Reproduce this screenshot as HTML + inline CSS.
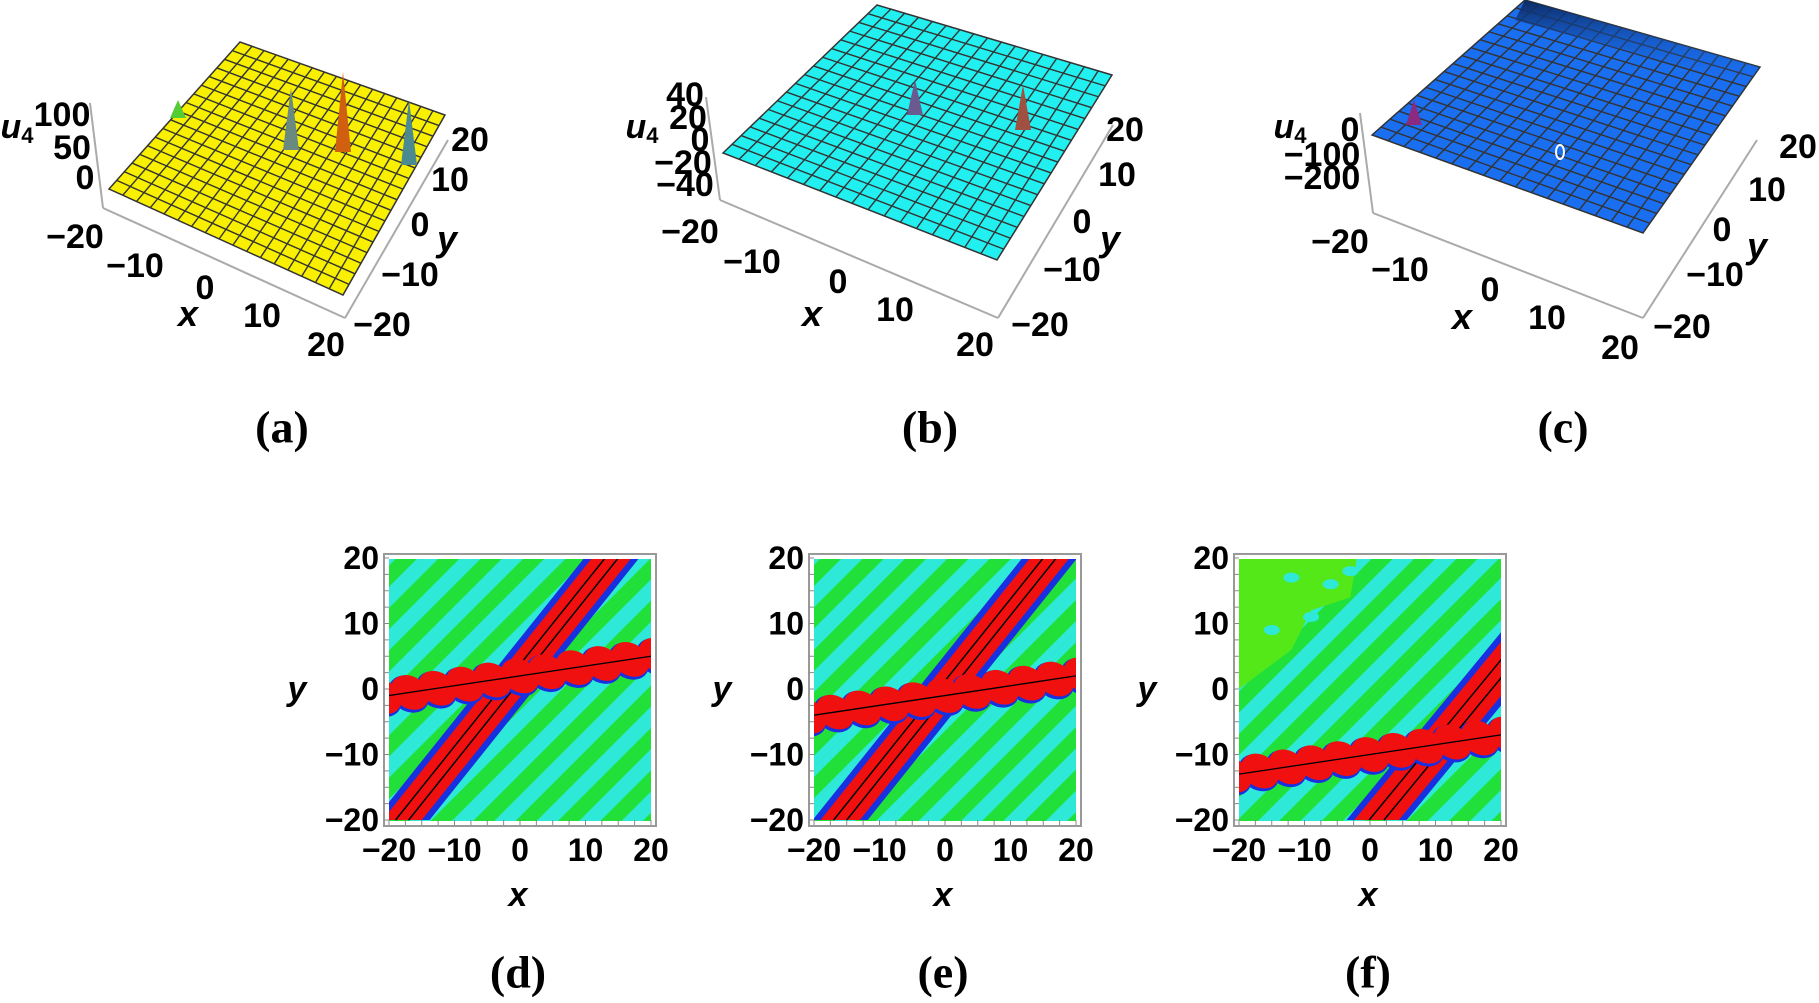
<!DOCTYPE html>
<html><head><meta charset="utf-8"><style>
html,body{margin:0;padding:0;background:#fff;}
svg{display:block}
.t{font-family:"Liberation Sans",sans-serif;font-weight:bold;fill:#000}
.c{font-family:"Liberation Serif",serif;font-weight:bold;fill:#000}
</style></head><body>
<svg id="s" xmlns="http://www.w3.org/2000/svg" width="1819" height="1003" viewBox="0 0 1819 1003">
<defs>
<pattern id="st" patternUnits="userSpaceOnUse" width="30" height="30" patternTransform="rotate(45)">
<rect width="30" height="30" fill="#22e03a"/><rect width="15" height="30" fill="#2ee8d8"/></pattern>
<linearGradient id="dk" x1="0" y1="0" x2="0" y2="1"><stop offset="0" stop-color="#0d2a60"/><stop offset="1" stop-color="#1a6ef0" stop-opacity="0"/></linearGradient>
</defs>
<g id="g"></g>
</svg>
<script>
var g=document.getElementById('g'),h='';
function T(x,y,s,fs,cls,anch){h+='<text class="'+(cls||'t')+'" x="'+x+'" y="'+y+'" font-size="'+(fs||30)+'" text-anchor="'+(anch||'middle')+'" dominant-baseline="central">'+s+'</text>';}
function L(x1,y1,x2,y2,c,w){h+='<line x1="'+x1+'" y1="'+y1+'" x2="'+x2+'" y2="'+y2+'" stroke="'+c+'" stroke-width="'+w+'"/>';}
function surf(P,fill,peaks){
 var A=P[0],B=P[1],C=P[2],D=P[3];
 function pt(u,v){
  var x=A[0]+(B[0]-A[0])*u+(D[0]-A[0])*v+(A[0]-B[0]+C[0]-D[0])*u*v;
  var y=A[1]+(B[1]-A[1])*u+(D[1]-A[1])*v+(A[1]-B[1]+C[1]-D[1])*u*v;return [x,y];}
 h+='<polygon points="'+[A,B,C,D].map(p=>p.join(',')).join(' ')+'" fill="'+fill+'" stroke="#333" stroke-width="1.5"/>';
 var n=17;
 for(var i=1;i<n;i++){var a=pt(i/n,0),b=pt(i/n,1);L(a[0],a[1],b[0],b[1],'#333',1.4);
  a=pt(0,i/n);b=pt(1,i/n);L(a[0],a[1],b[0],b[1],'#333',1.4);}
 peaks.forEach(function(k){h+='<polygon points="'+(k[0]-8)+','+k[1]+' '+k[0]+','+(k[1]-k[2])+' '+(k[0]+8)+','+k[1]+'" fill="'+k[3]+'"/>';});
}
function box(zt,zb,fb,yt){L(zt[0],zt[1],zb[0],zb[1],'#aaa',2);L(zb[0],zb[1],fb[0],fb[1],'#aaa',2);L(fb[0],fb[1],yt[0],yt[1],'#aaa',2);}
var U='<tspan font-style="italic">u</tspan><tspan font-size="22" dy="8">4</tspan>';
box([90,103],[103,208],[345,318],[448,140]);
surf([[109,189],[240,42],[445,115],[343,295]],'#f8f000',[[291,150,62,'#6a8a80'],[343,152,80,'#d06010'],[409,165,65,'#4a8a90'],[178,118,18,'#5c3']]);
T(17,127,U,34,'t');
T(62,115,'100',34);T(72,148,'50',34);T(85,178,'0',34);
T(75,237,'−20',34);T(135,266,'−10',34);T(205,288,'0',34);T(262,316,'10',34);T(326,345,'20',34);
T(188,313,'<tspan font-style="italic">x</tspan>',36);
T(470,140,'20',34);T(450,180,'10',34);T(420,225,'0',34);T(447,238,'<tspan font-style="italic">y</tspan>',36);T(410,275,'−10',34);T(382,325,'−20',34);
T(282,427,'(a)',46,'c');
box([706,97],[720,200],[998,318],[1113,125]);
surf([[723,153],[877,5],[1112,75],[997,260]],'#22f0f0',[[915,115,35,'#6a5a90'],[1023,130,45,'#a05040']]);
T(642,127,U,34,'t');
T(685,95,'40',34);T(688,118,'20',34);T(700,140,'0',34);T(683,163,'−20',34);T(685,185,'−40',34);
T(690,232,'−20',34);T(752,262,'−10',34);T(838,282,'0',34);T(895,310,'10',34);T(975,345,'20',34);
T(812,313,'<tspan font-style="italic">x</tspan>',36);
T(1125,130,'20',34);T(1117,175,'10',34);T(1082,222,'0',34);T(1110,238,'<tspan font-style="italic">y</tspan>',36);T(1072,270,'−10',34);T(1040,325,'−20',34);
T(930,427,'(b)',46,'c');
box([1360,113],[1373,213],[1643,318],[1757,140]);
surf([[1372,135],[1525,0],[1760,67],[1643,233]],'#1a6ef0',[[1414,125,25,'#8a2a80']]);
h+='<polygon points="1525,0 1760,67 1748,85 1515,20" fill="url(#dk)"/>';
h+='<ellipse cx="1560" cy="152" rx="4" ry="7" fill="none" stroke="#fff" stroke-width="2"/>';
T(1290,127,U,34,'t');
T(1350,130,'0',34);T(1322,155,'−100',34);T(1322,178,'−200',34);
T(1340,242,'−20',34);T(1400,270,'−10',34);T(1490,290,'0',34);T(1547,318,'10',34);T(1620,348,'20',34);
T(1462,316,'<tspan font-style="italic">x</tspan>',36);
T(1798,147,'20',34);T(1767,190,'10',34);T(1722,230,'0',34);T(1757,245,'<tspan font-style="italic">y</tspan>',36);T(1715,275,'−10',34);T(1682,327,'−20',34);
T(1563,427,'(c)',46,'c');
function cont(Lx,lab,diag,hb,bg){
 var s=6.55,Bt=820,Tp=559;
 function X(u){return Lx+(u+20)*s;}function Y(v){return Bt-(v+20)*s;}
 h+='<svg x="'+Lx+'" y="'+Tp+'" width="262" height="262" viewBox="'+Lx+' '+Tp+' 262 262" overflow="hidden">';
 h+='<rect x="'+Lx+'" y="'+Tp+'" width="262" height="262" fill="url(#st)"/>';
 if(bg){h+='<path d="M'+X(-20)+','+Y(20)+' L'+X(-2)+','+Y(20)+' L'+X(-3)+','+Y(14)+' L'+X(-9)+','+Y(12)+' L'+X(-12)+','+Y(6)+' L'+X(-20)+','+Y(0)+'Z" fill="#55e818"/>';
  [[-12,17],[-6,16],[-9,11],[-15,9],[-3,18]].forEach(function(p){h+='<ellipse cx="'+X(p[0])+'" cy="'+Y(p[1])+'" rx="8" ry="5" fill="#2ee8d8"/>';});}
 var d=diag,w=d[4];
 h+='<polygon points="'+X(d[0]-w-1.2)+','+Y(d[1])+' '+X(d[2]-w-1.2)+','+Y(d[3])+' '+X(d[2]+w+1.2)+','+Y(d[3])+' '+X(d[0]+w+1.2)+','+Y(d[1])+'" fill="#1830e0"/>';
 h+='<polygon points="'+X(d[0]-w)+','+Y(d[1])+' '+X(d[2]-w)+','+Y(d[3])+' '+X(d[2]+w)+','+Y(d[3])+' '+X(d[0]+w)+','+Y(d[1])+'" fill="#f01010"/>';
 L(X(d[0]-w/3),Y(d[1]),X(d[2]-w/3),Y(d[3]),'#000',1.5);L(X(d[0]+w/3),Y(d[1]),X(d[2]+w/3),Y(d[3]),'#000',1.5);
 var pts=[];for(var u=-21;u<=22;u+=4.2)pts.push([X(u),Y(hb[0]+(hb[1]-hb[0])*(u+20)/40)]);
 pts.forEach(function(p){h+='<ellipse cx="'+p[0]+'" cy="'+(p[1]+2)+'" rx="'+(3.3*s)+'" ry="'+(2.6*s)+'" transform="rotate(35 '+p[0]+' '+p[1]+')" fill="#1830e0"/>';});
 pts.forEach(function(p){h+='<ellipse cx="'+p[0]+'" cy="'+p[1]+'" rx="'+(3.1*s)+'" ry="'+(2.4*s)+'" transform="rotate(35 '+p[0]+' '+p[1]+')" fill="#f01010"/>';});
 var pl='';pts.forEach(function(p,i){pl+=(i?' L':'M')+p[0]+','+p[1];});
 h+='<path d="'+pl+'" fill="none" stroke="#000" stroke-width="1.3"/>';
 h+='</svg>';
 h+='<rect x="'+(Lx-5)+'" y="'+(Tp-5)+'" width="272" height="272" fill="none" stroke="#999" stroke-width="2"/>';
 var ty=[20,10,0,-10,-20];
 ty.forEach(function(v){T(Lx-10,Y(v),v<0?'−'+(-v):v,32,'t','end');});
 ty.forEach(function(v){T(X(v),850,v<0?'−'+(-v):v,32);});
 for(var k=-20;k<=20;k+=2.5){L(X(k),Bt+5,X(k),Bt,'#888',1);L(Lx-5,Y(k),Lx,Y(k),'#888',1);}
 T(Lx-92,Y(0),'<tspan font-style="italic">y</tspan>',34,'t');
 T(Lx+129,895,'<tspan font-style="italic">x</tspan>',34,'t');
 T(Lx+129,972,lab,46,'c');
}
cont(389,'(d)',[-18,-20,14,20,3],[-1,5],0);
cont(814,'(e)',[-16,-20,16,20,3],[-4,2],0);
cont(1239,'(f)',[1,-20,29,14,3.4],[-13,-7],1);
g.innerHTML=h;
</script>
</body></html>
